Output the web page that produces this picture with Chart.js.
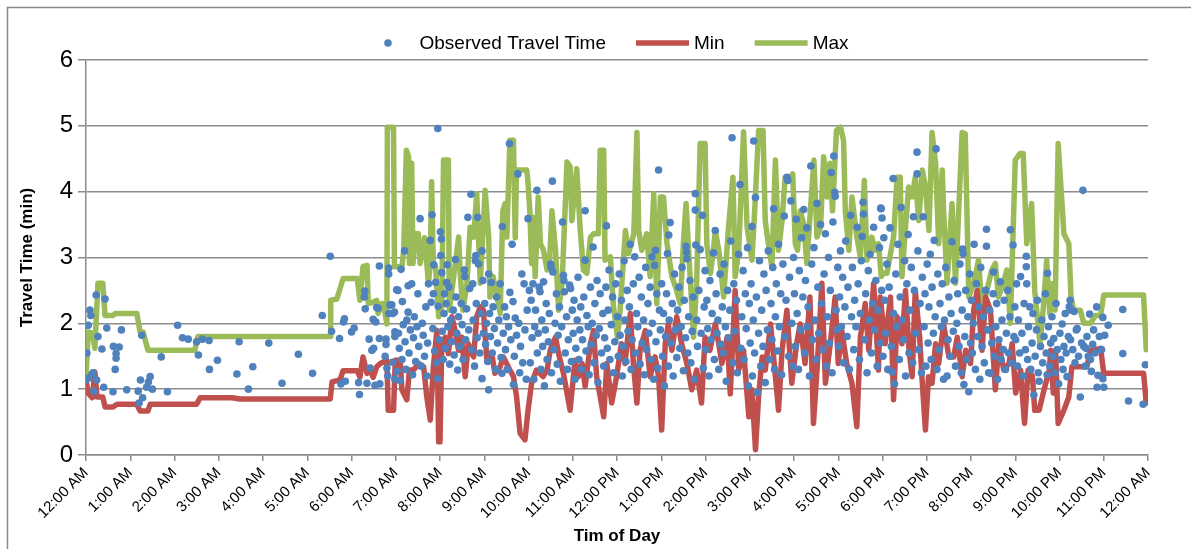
<!DOCTYPE html>
<html>
<head>
<meta charset="utf-8">
<title>Travel Time</title>
<script src="https://cdn.jsdelivr.net/npm/chart.js@4.4.1/dist/chart.umd.min.js"></script>
<style>
  html, body { margin: 0; padding: 0; background: #fff; }
  #wrap { width: 1191px; height: 549px; }
</style>
</head>
<body>
<div id="wrap"><canvas id="chart" width="1191" height="549"></canvas></div>
<script>
// tick labels for the hour axis (0..24)
const hourLabels = ['12:00 AM', '1:00 AM', '2:00 AM', '3:00 AM', '4:00 AM', '5:00 AM', '6:00 AM',
    '7:00 AM', '8:00 AM', '9:00 AM', '10:00 AM', '11:00 AM', '12:00 PM', '1:00 PM', '2:00 PM',
    '3:00 PM', '4:00 PM', '5:00 PM', '6:00 PM', '7:00 PM', '8:00 PM', '9:00 PM', '10:00 PM',
    '11:00 PM', '12:00 AM'];

// [hour of day, travel time in minutes]
const observedTravelTime = [
    [0.0,1.14],[0.02,1.55],[0.05,1.97],[0.06,1.17],[0.09,2.2],[0.11,2.12],[0.13,1.22],[0.16,1.25],[0.18,0.97],
    [0.23,2.43],[0.24,1.14],[0.27,1.8],[0.36,1.61],[0.4,1.03],[0.43,2.37],[0.47,1.93],[0.61,0.96],[0.62,1.65],
    [0.66,1.3],[0.68,1.54],[0.68,1.47],[0.75,1.64],[0.8,1.9],[0.92,0.99],[1.18,0.97],[1.2,0.79],[1.23,1.14],
    [1.26,1.82],[1.28,0.87],[1.37,1.03],[1.41,1.11],[1.45,1.19],[1.5,1.0],[1.7,1.49],[1.84,0.96],[2.07,1.97],
    [2.18,1.78],[2.31,1.76],[2.5,1.72],[2.54,1.52],[2.63,1.76],[2.78,1.74],[2.79,1.3],[2.97,1.44],[3.41,1.23],
    [3.46,1.72],[3.67,1.0],[3.77,1.34],[4.13,1.7],[4.43,1.09],[4.8,1.53],[5.12,1.24],[5.34,2.12],[5.52,3.02],
    [5.55,1.88],[5.73,1.77],[5.76,1.08],[5.82,2.02],[5.84,2.07],[5.86,1.12],[6.0,1.87],[6.06,1.93],[6.16,1.1],
    [6.18,0.92],[6.29,2.4],[6.3,2.49],[6.31,2.22],[6.35,1.09],[6.4,1.76],[6.42,1.32],[6.46,1.59],[6.49,2.06],
    [6.5,1.62],[6.53,1.06],[6.55,2.02],[6.57,2.24],[6.6,2.23],[6.63,2.87],[6.64,1.08],[6.63,1.77],[6.76,1.5],
    [6.78,1.76],[6.78,1.68],[6.8,1.32],[6.82,1.2],[6.84,2.75],[6.84,2.84],[6.84,2.15],[6.87,2.28],[6.91,2.28],
    [6.93,1.41],[6.93,2.15],[6.97,2.17],[6.98,1.87],[6.98,1.8],[6.98,1.15],
    // 7 AM
    [7.02,2.51],[7.03,1.27],[7.05,2.5],[7.06,1.85],[7.08,1.62],[7.1,1.13],[7.12,2.82],[7.14,1.45],[7.15,2.33],
    [7.17,1.98],[7.2,3.1],[7.21,1.72],[7.23,1.3],[7.25,2.05],[7.28,2.57],[7.28,2.17],[7.3,1.55],[7.33,1.9],
    [7.36,2.6],[7.38,1.22],[7.4,1.78],[7.42,2.1],[7.45,1.42],[7.48,1.95],[7.5,2.45],[7.52,1.65],[7.55,3.59],
    [7.57,1.35],[7.6,2.0],[7.62,1.82],[7.65,1.5],[7.68,2.25],[7.7,1.2],[7.72,1.7],[7.74,2.6],[7.78,3.26],
    [7.8,2.32],[7.82,3.65],[7.84,1.92],[7.85,2.45],[7.86,2.89],[7.88,1.58],[7.9,2.62],[7.92,1.4],[7.95,4.96],
    [7.95,1.16],[7.96,2.26],[7.98,1.75],
    // 8 AM
    [8.01,3.39],[8.02,3.03],[8.03,3.28],[8.04,2.77],[8.05,1.88],[8.07,1.45],[8.09,2.15],[8.1,2.45],[8.12,1.62],
    [8.14,2.3],[8.15,2.62],[8.16,2.89],[8.18,1.95],[8.2,2.55],[8.22,1.38],[8.24,2.05],[8.26,1.72],[8.3,2.2],
    [8.32,1.52],[8.35,2.97],[8.36,2.4],[8.38,1.85],[8.4,1.29],[8.42,2.1],[8.45,1.65],[8.48,2.3],[8.5,1.98],
    [8.52,1.45],[8.55,2.81],[8.56,2.71],[8.58,1.75],[8.6,2.22],[8.63,3.61],[8.65,1.9],[8.67,2.53],[8.7,3.96],
    [8.72,1.6],[8.74,2.6],[8.75,2.05],[8.78,1.35],[8.8,2.95],[8.81,3.03],[8.82,2.3],[8.84,1.78],[8.85,3.61],
    [8.87,2.9],[8.9,1.55],[8.92,2.15],[8.95,3.1],[8.95,1.16],[8.97,2.65],[8.98,1.85],
    // 9 AM
    [9.01,2.3],[9.03,1.68],[9.05,2.0],[9.08,1.42],[9.1,2.75],[9.1,0.99],[9.12,2.15],[9.14,1.8],[9.16,2.62],
    [9.18,1.55],[9.2,2.25],[9.23,1.92],[9.26,1.3],[9.28,2.4],[9.3,1.7],[9.33,2.05],[9.36,2.6],[9.38,1.48],
    [9.4,1.24],[9.41,3.47],[9.43,1.85],[9.46,2.25],[9.48,1.6],[9.5,2.1],[9.52,1.3],[9.55,1.95],[9.57,4.73],
    [9.58,2.47],[9.6,1.75],[9.63,3.2],[9.65,2.33],[9.66,1.07],[9.68,1.5],[9.7,2.08],[9.73,1.82],[9.76,4.27],
    [9.78,2.0],[9.8,1.25],[9.82,1.65],[9.85,2.75],[9.87,1.4],[9.9,2.6],[9.92,1.9],[9.95,1.15],[9.97,2.2],
    [9.99,3.59],
    // 10 AM
    [10.02,2.5],[10.04,1.4],[10.06,2.35],[10.08,1.78],[10.1,2.6],[10.12,1.15],[10.14,1.95],[10.16,2.2],
    [10.19,4.02],[10.2,1.55],[10.22,1.85],[10.24,2.55],[10.26,2.48],[10.28,1.3],[10.3,2.05],[10.32,1.65],
    [10.34,2.63],[10.36,1.05],[10.38,1.9],[10.4,2.3],[10.42,1.45],[10.45,1.72],[10.47,2.15],[10.5,2.9],
    [10.51,2.85],[10.52,1.25],[10.54,4.16],[10.55,2.78],[10.57,1.6],[10.6,2.0],[10.63,2.45],[10.65,1.38],
    [10.67,1.82],[10.7,2.25],[10.72,1.12],[10.75,1.95],[10.77,3.54],[10.79,2.73],[10.8,2.65],[10.81,2.48],
    [10.83,1.55],[10.86,2.1],[10.88,1.3],[10.9,1.75],[10.93,2.58],[10.95,2.53],[10.97,1.42],[10.99,2.2],
    // 11 AM
    [11.01,1.85],[11.03,2.35],[11.05,1.15],[11.07,1.62],[11.1,2.05],[11.12,2.7],[11.14,1.45],[11.16,1.9],
    [11.18,2.25],[11.2,1.3],[11.22,1.75],[11.25,2.4],[11.28,3.71],[11.28,2.96],[11.3,1.58],[11.32,2.12],
    [11.35,1.95],[11.37,1.22],[11.4,2.55],[11.42,1.68],[11.44,2.0],[11.46,3.16],[11.48,1.4],[11.5,2.3],
    [11.53,1.82],[11.55,2.65],[11.57,1.1],[11.6,1.92],[11.62,2.45],[11.65,1.55],[11.68,2.15],[11.7,1.35],
    [11.72,1.78],[11.75,2.55],[11.76,3.48],[11.78,1.62],[11.8,2.2],[11.82,2.81],[11.84,1.45],[11.87,1.98],
    [11.9,2.4],[11.92,1.25],[11.95,1.72],[11.97,2.6],
    // 12 PM
    [12.01,2.1],[12.03,1.5],[12.05,2.75],[12.07,1.82],[12.1,2.35],[12.12,1.2],[12.14,1.65],[12.16,2.95],
    [12.18,2.05],[12.2,1.42],[12.23,2.5],[12.25,1.88],[12.28,2.25],[12.3,3.2],[12.32,1.3],[12.34,1.75],
    [12.37,2.6],[12.4,3.01],[12.42,1.55],[12.44,2.15],[12.47,1.95],[12.5,2.7],[12.52,1.38],[12.55,2.4],
    [12.57,1.7],[12.6,2.05],[12.62,1.22],[12.65,2.85],[12.67,1.6],[12.7,2.3],[12.72,1.85],[12.75,2.55],
    [12.77,1.45],[12.79,3.01],[12.8,2.0],[12.83,1.15],[12.85,2.88],[12.87,3.11],[12.88,1.72],[12.9,2.45],
    [12.92,1.32],[12.94,4.33],[12.96,2.2],[12.98,1.9],
    // 1 PM
    [13.01,2.6],[13.03,1.5],[13.05,2.15],[13.07,1.05],[13.1,1.8],[13.12,2.45],[13.14,3.06],[13.16,1.35],
    [13.17,3.34],[13.18,2.05],[13.2,3.53],[13.22,1.7],[13.25,2.3],[13.27,1.2],[13.3,2.75],[13.32,1.9],
    [13.35,1.48],[13.37,2.2],[13.4,2.55],[13.42,1.62],[13.45,1.95],[13.47,2.85],[13.5,1.28],[13.52,2.35],
    [13.55,1.78],[13.56,3.17],[13.57,3.08],[13.58,2.98],[13.6,1.55],[13.62,2.1],[13.65,2.65],[13.67,1.4],
    [13.7,1.88],[13.72,2.4],[13.75,1.15],[13.77,3.97],[13.77,3.72],[13.78,3.19],[13.8,2.05],[13.82,1.65],
    [13.85,2.5],[13.88,3.12],[13.9,1.85],[13.93,3.64],[13.95,1.32],[13.97,2.25],[13.99,2.8],
    // 2 PM
    [14.01,1.6],[14.03,2.35],[14.05,1.92],[14.08,1.2],[14.1,2.65],[14.12,1.75],[14.15,2.15],[14.18,3.07],
    [14.2,1.45],[14.22,3.41],[14.24,2.45],[14.26,1.85],[14.28,2.05],[14.3,1.3],[14.33,2.75],[14.35,1.68],
    [14.38,2.25],[14.4,1.55],[14.42,2.9],[14.45,1.95],[14.47,1.12],[14.5,2.5],[14.52,1.78],[14.55,2.2],
    [14.57,3.25],[14.6,4.82],[14.62,1.4],[14.64,2.6],[14.66,1.88],[14.7,2.35],[14.72,1.25],[14.75,3.05],
    [14.78,4.11],[14.8,1.62],[14.82,2.1],[14.85,2.8],[14.87,1.45],[14.9,2.45],[14.92,1.92],[14.95,3.15],
    [14.97,1.05],[14.99,2.3],
    // 3 PM
    [15.01,1.7],[15.03,2.6],[15.05,3.47],[15.06,1.2],[15.08,2.05],[15.09,4.77],[15.11,1.55],[15.13,3.91],
    [15.15,2.4],[15.17,0.95],[15.2,1.85],[15.22,2.95],[15.25,1.35],[15.27,2.2],[15.3,1.65],[15.32,2.75],
    [15.35,1.1],[15.37,2.5],[15.4,1.9],[15.42,3.1],[15.45,1.45],[15.48,2.3],[15.5,1.75],[15.52,2.85],
    [15.54,3.74],[15.56,1.3],[15.58,2.1],[15.6,2.6],[15.62,1.58],[15.65,3.2],[15.67,1.95],[15.7,2.45],
    [15.72,1.22],[15.75,2.9],[15.78,3.63],[15.8,1.8],[15.82,2.35],[15.84,4.22],[15.86,4.17],[15.88,1.5],
    [15.9,2.7],[15.93,3.86],[15.95,2.0],[15.97,1.35],[15.99,3.0],
    // 4 PM
    [16.01,2.45],[16.03,1.65],[16.05,3.58],[16.07,2.15],[16.1,1.3],[16.12,2.8],[16.15,1.9],[16.17,3.3],
    [16.2,2.4],[16.22,3.73],[16.24,1.55],[16.26,2.65],[16.29,3.45],[16.3,1.95],[16.32,2.25],[16.35,1.2],
    [16.38,4.39],[16.4,2.9],[16.42,1.75],[16.45,3.15],[16.47,2.05],[16.5,1.45],[16.52,3.82],[16.54,2.55],
    [16.56,1.85],[16.6,3.5],[16.62,2.3],[16.65,1.6],[16.68,2.75],[16.71,3.36],[16.73,1.35],[16.75,2.1],
    [16.78,3.0],[16.8,1.7],[16.82,2.5],[16.84,4.29],[16.86,1.25],[16.88,3.54],[16.9,4.54],[16.92,3.99],
    [16.93,3.93],[16.95,2.2],[16.97,1.9],[16.99,2.85],
    // 5 PM
    [17.01,1.65],[17.03,2.4],[17.05,3.1],[17.07,1.95],[17.1,2.7],[17.12,1.4],[17.15,2.25],[17.17,3.25],
    [17.2,1.8],[17.22,2.55],[17.25,1.3],[17.28,3.64],[17.3,2.1],[17.32,2.85],[17.35,1.6],[17.37,2.35],
    [17.4,1.95],[17.43,3.46],[17.45,2.6],[17.48,1.45],[17.5,2.15],[17.52,2.95],[17.54,3.32],[17.56,3.84],
    [17.57,3.66],[17.6,1.75],[17.62,2.45],[17.65,1.25],[17.68,2.8],[17.7,2.05],[17.72,3.05],[17.75,1.55],
    [17.78,2.3],[17.8,3.46],[17.82,1.9],[17.85,2.65],[17.88,1.35],[17.9,2.2],[17.93,3.15],[17.95,1.7],
    [17.96,3.75],[17.97,3.74],[17.98,2.5],[17.99,3.6],
    // 6 PM
    [18.01,1.5],[18.03,3.3],[18.05,2.35],[18.07,1.85],[18.1,2.9],[18.12,1.3],[18.15,2.55],[18.17,3.45],
    [18.2,1.65],[18.22,1.26],[18.24,4.2],[18.25,2.15],[18.27,1.08],[18.3,2.75],[18.32,1.95],[18.35,3.2],
    [18.38,1.45],[18.4,2.4],[18.42,3.76],[18.45,2.05],[18.48,1.75],[18.5,2.95],[18.52,1.2],[18.55,2.6],
    [18.58,3.35],[18.6,1.55],[18.62,2.2],[18.65,2.85],[18.68,1.4],[18.7,3.62],[18.72,2.5],[18.75,1.85],
    [18.78,4.6],[18.78,4.27],[18.8,3.1],[18.82,1.6],[18.85,2.3],[18.88,1.25],[18.9,2.7],[18.92,3.62],
    [18.94,1.95],[18.96,2.45],[18.98,1.35],
    // 7 PM
    [19.01,2.9],[19.03,1.7],[19.05,2.25],[19.08,3.05],[19.1,1.45],[19.12,2.55],[19.15,1.85],[19.17,3.26],
    [19.19,2.1],[19.21,4.65],[19.23,1.3],[19.25,2.75],[19.28,1.6],[19.3,2.3],[19.33,1.95],[19.35,2.6],
    [19.38,1.15],[19.4,2.05],[19.43,2.85],[19.46,1.2],[19.48,1.75],[19.5,2.4],[19.53,1.5],[19.55,2.15],
    [19.57,3.24],[19.6,1.88],[19.62,2.65],[19.65,1.35],[19.68,2.0],[19.7,2.45],[19.73,1.65],[19.75,2.9],
    [19.78,1.25],[19.8,2.2],[19.81,3.13],[19.82,3.06],[19.84,1.07],[19.86,1.8],[19.88,2.5],[19.9,1.45],
    [19.93,2.1],[19.95,0.96],[19.97,2.75],[19.99,1.7],
    // 8 PM
    [20.01,2.35],[20.03,1.55],[20.05,2.0],[20.07,3.2],[20.1,1.3],[20.12,2.6],[20.15,1.8],[20.18,2.25],
    [20.2,1.15],[20.22,2.85],[20.25,1.65],[20.28,2.1],[20.3,1.4],[20.33,2.5],[20.35,3.43],[20.35,3.17],
    [20.38,1.9],[20.4,1.25],[20.42,2.2],[20.44,1.24],[20.47,1.7],[20.5,2.45],[20.51,2.78],[20.53,1.5],
    [20.56,1.95],[20.58,2.3],[20.6,1.15],[20.63,1.75],[20.66,2.63],[20.68,1.45],[20.7,2.05],[20.73,1.6],
    [20.75,2.35],[20.78,1.3],[20.8,1.85],[20.83,2.5],[20.85,1.55],[20.88,2.1],[20.89,3.42],[20.92,1.4],
    [20.95,3.19],[20.97,1.8],[20.99,2.25],
    // 9 PM
    [21.01,1.75],[21.03,2.6],[21.05,1.35],[21.07,2.05],[21.1,1.55],[21.12,2.71],[21.15,1.85],[21.18,1.2],
    [21.2,2.3],[21.23,1.6],[21.25,3.02],[21.25,2.86],[21.26,2.6],[21.28,1.45],[21.3,1.95],[21.33,2.25],
    [21.35,1.3],[21.38,1.7],[21.4,2.15],[21.42,0.91],[21.45,1.5],[21.48,1.9],[21.5,2.35],[21.52,1.25],
    [21.54,1.12],[21.57,1.65],[21.6,2.05],[21.62,1.4],[21.65,1.8],[21.68,2.45],[21.7,1.55],[21.72,1.22],
    [21.73,2.76],[21.75,1.95],[21.78,1.35],[21.8,1.7],[21.83,2.1],[21.85,1.5],[21.87,1.77],[21.9,1.25],
    [21.92,2.3],[21.95,1.6],[21.98,1.08],
    // 10 PM
    [22.01,1.85],[22.03,1.45],[22.06,1.99],[22.08,1.3],[22.1,1.65],[22.13,2.15],[22.15,1.55],[22.17,1.19],
    [22.2,1.8],[22.22,2.25],[22.24,2.35],[22.25,1.75],[22.27,2.2],[22.3,1.6],[22.33,2.18],[22.35,1.4],
    [22.38,1.9],[22.4,1.92],[22.43,1.5],[22.47,0.88],[22.5,1.7],[22.53,4.02],[22.55,1.65],[22.58,1.35],
    [22.6,1.62],[22.62,1.8],[22.65,1.5],[22.68,2.14],[22.7,1.45],[22.72,1.27],[22.75,1.68],[22.77,1.9],
    [22.8,1.55],[22.84,2.25],[22.85,1.03],[22.87,1.21],[22.9,1.8],[22.95,1.6],[22.98,1.16],[22.98,2.09],
    [23.0,1.03],[23.02,1.82],
    // 11 PM
    [23.1,1.97],[23.43,2.21],[23.43,1.54],[23.56,0.82],[23.89,0.77],[23.94,1.37]
];

const minTravelTime = [
    [0,1.14],[0.05,0.94],[0.14,0.87],[0.2,1.26],[0.25,0.88],[0.38,0.88],[0.43,0.73],[0.61,0.73],[0.7,0.77],
    [1.15,0.77],[1.22,0.67],[1.4,0.67],[1.45,0.77],[2.5,0.77],[2.58,0.87],[3.3,0.87],[3.48,0.85],[5.52,0.85],
    [5.56,1.11],[5.74,1.14],[5.81,1.28],[6.13,1.28],[6.19,1.18],[6.26,1.49],[6.35,1.24],[6.42,1.29],[6.49,1.18],
    [6.57,1.34],[6.65,1.39],[6.8,1.44],[6.83,0.68],[6.95,0.68],[6.99,1.44],[7.1,1.44],[7.14,0.99],[7.25,0.84],
    [7.31,1.29],[7.4,1.29],[7.52,1.39],[7.63,1.34],[7.7,0.89],[7.78,0.53],[7.85,1.34],[7.93,1.89],[7.97,0.2],
    [8.0,0.2],[8.04,1.69],[8.12,1.79],[8.19,1.54],[8.27,2.1],[8.34,1.89],[8.42,1.59],[8.49,1.79],[8.57,1.19],
    [8.64,1.69],[8.76,1.49],[8.83,2.1],[8.91,2.25],[8.98,2.2],[9.06,1.44],[9.17,1.54],[9.24,1.24],[9.36,1.34],
    [9.43,1.49],[9.58,1.29],[9.66,1.19],[9.73,0.89],[9.81,0.33],[9.92,0.23],[9.99,0.68],[10.07,1.09],
    [10.18,1.29],[10.33,1.19],[10.42,1.29],[10.49,1.59],[10.61,1.79],[10.68,1.54],[10.79,1.24],[10.94,0.68],
    [11.05,1.44],[11.13,1.19],[11.21,1.39],[11.28,1.04],[11.4,1.69],[11.47,1.89],[11.54,1.19],[11.62,0.89],
    [11.7,0.58],[11.77,1.39],[11.88,0.79],[11.99,1.19],[12.1,1.69],[12.18,1.39],[12.3,2.15],[12.37,1.39],
    [12.45,0.79],[12.52,1.59],[12.64,1.89],[12.75,1.19],[12.86,1.49],[12.94,1.19],[13.01,0.38],[13.09,1.69],
    [13.16,1.99],[13.24,1.59],[13.35,2.1],[13.46,1.69],[13.58,1.39],[13.69,0.99],[13.8,1.29],[13.91,0.79],
    [13.99,1.79],[14.1,1.59],[14.22,1.99],[14.3,1.69],[14.37,1.39],[14.49,1.79],[14.56,0.93],[14.67,2.5],
    [14.75,1.29],[14.86,1.59],[14.98,0.58],[15.05,0.99],[15.13,0.08],[15.2,0.89],[15.28,1.49],[15.35,1.29],
    [15.47,1.99],[15.58,1.19],[15.65,0.68],[15.73,1.59],[15.84,2.2],[15.95,1.09],[16.06,1.69],[16.14,1.99],
    [16.25,1.39],[16.36,2.4],[16.44,0.48],[16.52,1.29],[16.63,2.61],[16.71,1.09],[16.82,1.69],[16.93,2.4],
    [17.0,1.39],[17.08,1.89],[17.19,1.39],[17.31,1.09],[17.42,0.43],[17.5,1.79],[17.61,2.3],[17.69,1.59],
    [17.8,2.61],[17.91,1.29],[17.95,2.4],[18.06,1.69],[18.18,2.4],[18.25,0.84],[18.33,2.1],[18.44,1.69],
    [18.52,2.5],[18.6,1.59],[18.67,1.19],[18.74,2.5],[18.84,1.79],[18.89,1.19],[18.97,0.38],[19.04,1.19],
    [19.12,1.09],[19.2,1.69],[19.27,1.39],[19.38,1.99],[19.5,1.49],[19.61,1.49],[19.69,1.79],[19.8,1.19],
    [19.88,1.59],[19.99,1.39],[20.06,2.2],[20.14,2.5],[20.25,1.59],[20.33,2.4],[20.44,2.2],[20.55,0.99],
    [20.63,1.69],[20.74,1.29],[20.86,1.39],[20.93,1.69],[21.01,0.94],[21.12,1.29],[21.21,0.48],[21.29,1.29],
    [21.39,1.19],[21.44,0.68],[21.54,0.68],[21.65,0.99],[21.77,1.29],[21.8,1.59],[21.86,0.94],[21.91,1.59],
    [21.97,0.48],[22.1,0.68],[22.21,0.88],[22.28,1.34],[22.62,1.34],[22.7,1.59],[22.93,1.62],[23.0,1.24],
    [23.9,1.24],[23.96,0.79]
];

const maxTravelTime = [
    [0,1.18],[0.05,1.87],[0.14,1.85],[0.2,1.62],[0.27,2.61],[0.38,2.61],[0.43,2.12],[0.61,2.12],[0.66,2.15],
    [1.15,2.15],[1.22,1.87],[1.29,1.87],[1.4,1.59],[2.46,1.59],[2.53,1.8],[3.48,1.8],[5.52,1.8],[5.53,2.35],
    [5.67,2.37],[5.81,2.68],[6.13,2.68],[6.19,2.35],[6.26,2.86],[6.35,2.88],[6.38,2.3],[6.49,2.32],[6.57,2.35],
    [6.6,2.15],[6.69,2.3],[6.72,2.3],[6.8,1.99],[6.81,4.98],[6.95,4.98],[6.97,2.86],[7.14,2.86],[7.18,3.11],
    [7.24,4.63],[7.29,4.53],[7.31,2.91],[7.36,4.43],[7.39,2.91],[7.44,3.36],[7.51,3.36],[7.55,2.91],[7.65,3.3],
    [7.74,2.6],[7.78,2.91],[7.81,4.15],[7.85,2.86],[7.9,2.86],[7.97,2.1],[8.04,2.25],[8.08,4.48],[8.19,4.48],
    [8.21,2.2],[8.3,2.66],[8.42,3.31],[8.46,2.71],[8.52,2.2],[8.61,2.61],[8.68,3.46],[8.76,3.31],[8.83,3.97],
    [8.91,2.61],[9.02,4.02],[9.1,3.31],[9.13,2.4],[9.2,2.71],[9.32,2.3],[9.36,2.15],[9.42,3.71],[9.47,3.82],
    [9.51,3.31],[9.58,4.78],[9.66,4.78],[9.7,3.3],[9.73,4.33],[9.96,4.33],[9.99,4.13],[10.03,3.71],[10.07,2.91],
    [10.1,3.61],[10.15,2.71],[10.22,3.92],[10.27,3.21],[10.34,3.11],[10.42,2.81],[10.47,2.86],[10.53,3.71],
    [10.61,3.11],[10.68,2.2],[10.76,2.61],[10.87,4.45],[10.94,4.38],[10.98,3.56],[11.09,4.35],[11.17,3.41],
    [11.24,2.81],[11.32,2.76],[11.4,3.31],[11.47,3.36],[11.58,3.36],[11.62,4.63],[11.7,4.63],[11.73,2.96],
    [11.85,3.01],[11.92,2.25],[12.01,1.79],[12.07,2.2],[12.19,3.41],[12.26,3.06],[12.38,3.36],[12.45,4.9],
    [12.49,3.41],[12.56,3.11],[12.67,3.36],[12.75,2.71],[12.83,3.97],[12.9,2.3],[12.98,3.92],[13.05,3.92],
    [13.13,3.21],[13.24,2.71],[13.32,2.56],[13.43,2.3],[13.5,3.21],[13.56,3.82],[13.61,3.21],[13.73,1.79],
    [13.8,2.61],[13.88,4.73],[13.99,4.73],[14.03,3.21],[14.11,2.76],[14.18,3.11],[14.22,3.41],[14.3,3.11],
    [14.41,2.4],[14.52,3.46],[14.62,4.22],[14.67,2.71],[14.75,3.11],[14.86,4.91],[14.94,3.46],[15.05,2.96],
    [15.12,3.82],[15.2,4.93],[15.3,4.93],[15.35,3.56],[15.42,3.21],[15.5,2.86],[15.58,4.48],[15.65,3.11],
    [15.73,3.56],[15.8,4.22],[15.88,4.17],[15.97,4.27],[16.03,3.21],[16.08,3.11],[16.14,3.71],[16.22,3.51],
    [16.29,2.91],[16.37,3.71],[16.45,4.48],[16.52,3.31],[16.6,3.46],[16.67,4.53],[16.75,3.92],[16.81,4.43],
    [16.87,3.71],[16.96,4.93],[17.05,4.98],[17.12,4.78],[17.16,3.71],[17.24,3.11],[17.31,3.92],[17.42,3.31],
    [17.5,3.01],[17.59,4.17],[17.65,2.96],[17.76,3.31],[17.83,3.11],[17.91,3.21],[17.97,2.71],[18.02,2.76],
    [18.1,2.76],[18.25,3.31],[18.33,4.22],[18.4,4.22],[18.44,2.71],[18.52,3.46],[18.59,4.07],[18.67,3.92],
    [18.74,4.22],[18.82,3.56],[18.9,4.33],[18.97,4.07],[19.05,3.41],[19.12,4.9],[19.2,4.43],[19.27,3.21],
    [19.35,4.33],[19.38,3.71],[19.46,2.61],[19.57,3.82],[19.65,2.61],[19.8,4.9],[19.87,4.88],[19.95,2.4],
    [20.06,2.61],[20.17,2.96],[20.25,2.2],[20.36,2.5],[20.47,2.81],[20.55,2.91],[20.62,2.4],[20.73,2.61],
    [20.81,2.81],[20.89,2.0],[21.0,4.48],[21.11,4.58],[21.18,4.58],[21.26,3.21],[21.37,3.82],[21.44,2.5],
    [21.56,1.69],[21.63,2.2],[21.71,2.96],[21.78,2.15],[21.83,2.6],[21.9,2.2],[21.97,4.73],[22.1,3.36],
    [22.21,3.21],[22.26,2.4],[22.32,2.2],[22.47,2.2],[22.55,2.0],[22.7,2.0],[22.81,2.12],[22.93,2.12],
    [23.0,2.43],[23.9,2.43],[23.96,1.6]
];

const BLUE = '#4f81bd';
const RED = '#c0504d';
const GREEN = '#9bbb59';
const GRID = '#8c8c8c';
const FONT = "'Liberation Sans', Arial, sans-serif";

function toXY(pairs) {
    return pairs.map(p => ({ x: p[0], y: p[1] }));
}

// outer frame + Excel-like legend at the top
const framePlugin = {
    id: 'frame',
    beforeDraw(chart) {
        const ctx = chart.ctx;
        ctx.save();
        ctx.fillStyle = '#fff';
        ctx.fillRect(0, 0, chart.width, chart.height);
        ctx.strokeStyle = '#888';
        ctx.lineWidth = 1.5;
        ctx.strokeRect(7.5, 7.5, chart.width + 20, chart.height + 20);
        ctx.restore();
    },
    afterDraw(chart) {
        const ctx = chart.ctx;
        const items = [
            { text: 'Observed Travel Time', kind: 'dot', color: BLUE },
            { text: 'Min', kind: 'line', color: RED },
            { text: 'Max', kind: 'line', color: GREEN }
        ];
        const keyW = 53, keyGap = 5, itemGap = 30, y = 43;
        ctx.save();
        ctx.font = '19px ' + FONT;
        ctx.textBaseline = 'middle';
        ctx.fillStyle = '#000';
        let total = 0;
        items.forEach((it, i) => {
            it.w = ctx.measureText(it.text).width;
            total += keyW + keyGap + it.w + (i ? itemGap : 0);
        });
        let x = 605 - total / 2;
        items.forEach((it, i) => {
            if (i) x += itemGap;
            if (it.kind === 'dot') {
                ctx.fillStyle = it.color;
                ctx.beginPath();
                ctx.arc(x + keyW / 2, y, 3.8, 0, Math.PI * 2);
                ctx.fill();
            } else {
                ctx.strokeStyle = it.color;
                ctx.lineWidth = 5.5;
                ctx.beginPath();
                ctx.moveTo(x, y);
                ctx.lineTo(x + keyW, y);
                ctx.stroke();
            }
            x += keyW + keyGap;
            ctx.fillStyle = '#000';
            ctx.fillText(it.text, x, y + 1);
            x += it.w;
        });
        ctx.restore();
    }
};

const ctx = document.getElementById('chart').getContext('2d');
new Chart(ctx, {
    type: 'scatter',
    data: {
        datasets: [
            {
                label: 'Observed Travel Time',
                data: toXY(observedTravelTime),
                backgroundColor: BLUE,
                borderColor: BLUE,
                pointRadius: 3.8,
                pointBorderWidth: 0,
                showLine: false
            },
            {
                label: 'Min',
                data: toXY(minTravelTime),
                borderColor: RED,
                backgroundColor: RED,
                borderWidth: 5.5,
                pointRadius: 0,
                showLine: true,
                borderJoinStyle: 'round',
                borderCapStyle: 'round'
            },
            {
                label: 'Max',
                data: toXY(maxTravelTime),
                borderColor: GREEN,
                backgroundColor: GREEN,
                borderWidth: 5.5,
                pointRadius: 0,
                showLine: true,
                borderJoinStyle: 'round',
                borderCapStyle: 'round'
            }
        ]
    },
    options: {
        responsive: false,
        animation: false,
        devicePixelRatio: 1,
        layout: { padding: { top: 60, right: 43, left: 0, bottom: 0 } },
        plugins: {
            legend: { display: false },
            tooltip: { enabled: false }
        },
        scales: {
            x: {
                type: 'linear',
                min: 0,
                max: 24,
                afterFit: scale => { scale.height = 94; },
                border: { display: true, color: GRID, width: 1.5 },
                grid: { drawOnChartArea: false, drawTicks: true, tickLength: 6, color: GRID, lineWidth: 1.5 },
                ticks: {
                    stepSize: 1,
                    autoSkip: false,
                    minRotation: 45,
                    maxRotation: 45,
                    padding: 3,
                    color: '#000',
                    font: { family: FONT, size: 15 },
                    callback: value => hourLabels[value]
                },
                title: {
                    display: true,
                    text: 'Tim of Day',
                    color: '#000',
                    font: { family: FONT, size: 17, weight: 'bold' },
                    padding: { top: 0, bottom: 2 }
                }
            },
            y: {
                min: 0,
                max: 6,
                afterFit: scale => { scale.width = 86; },
                border: { display: true, color: GRID, width: 1.5 },
                grid: { color: GRID, lineWidth: 1.5, tickLength: 8 },
                ticks: {
                    stepSize: 1,
                    padding: 5,
                    color: '#000',
                    font: { family: FONT, size: 24 }
                },
                title: {
                    display: true,
                    text: 'Travel Time (min)',
                    color: '#000',
                    font: { family: FONT, size: 17, weight: 'bold' },
                    padding: { top: 17, bottom: 0 }
                }
            }
        }
    },
    plugins: [framePlugin]
});
</script>
</body>
</html>
